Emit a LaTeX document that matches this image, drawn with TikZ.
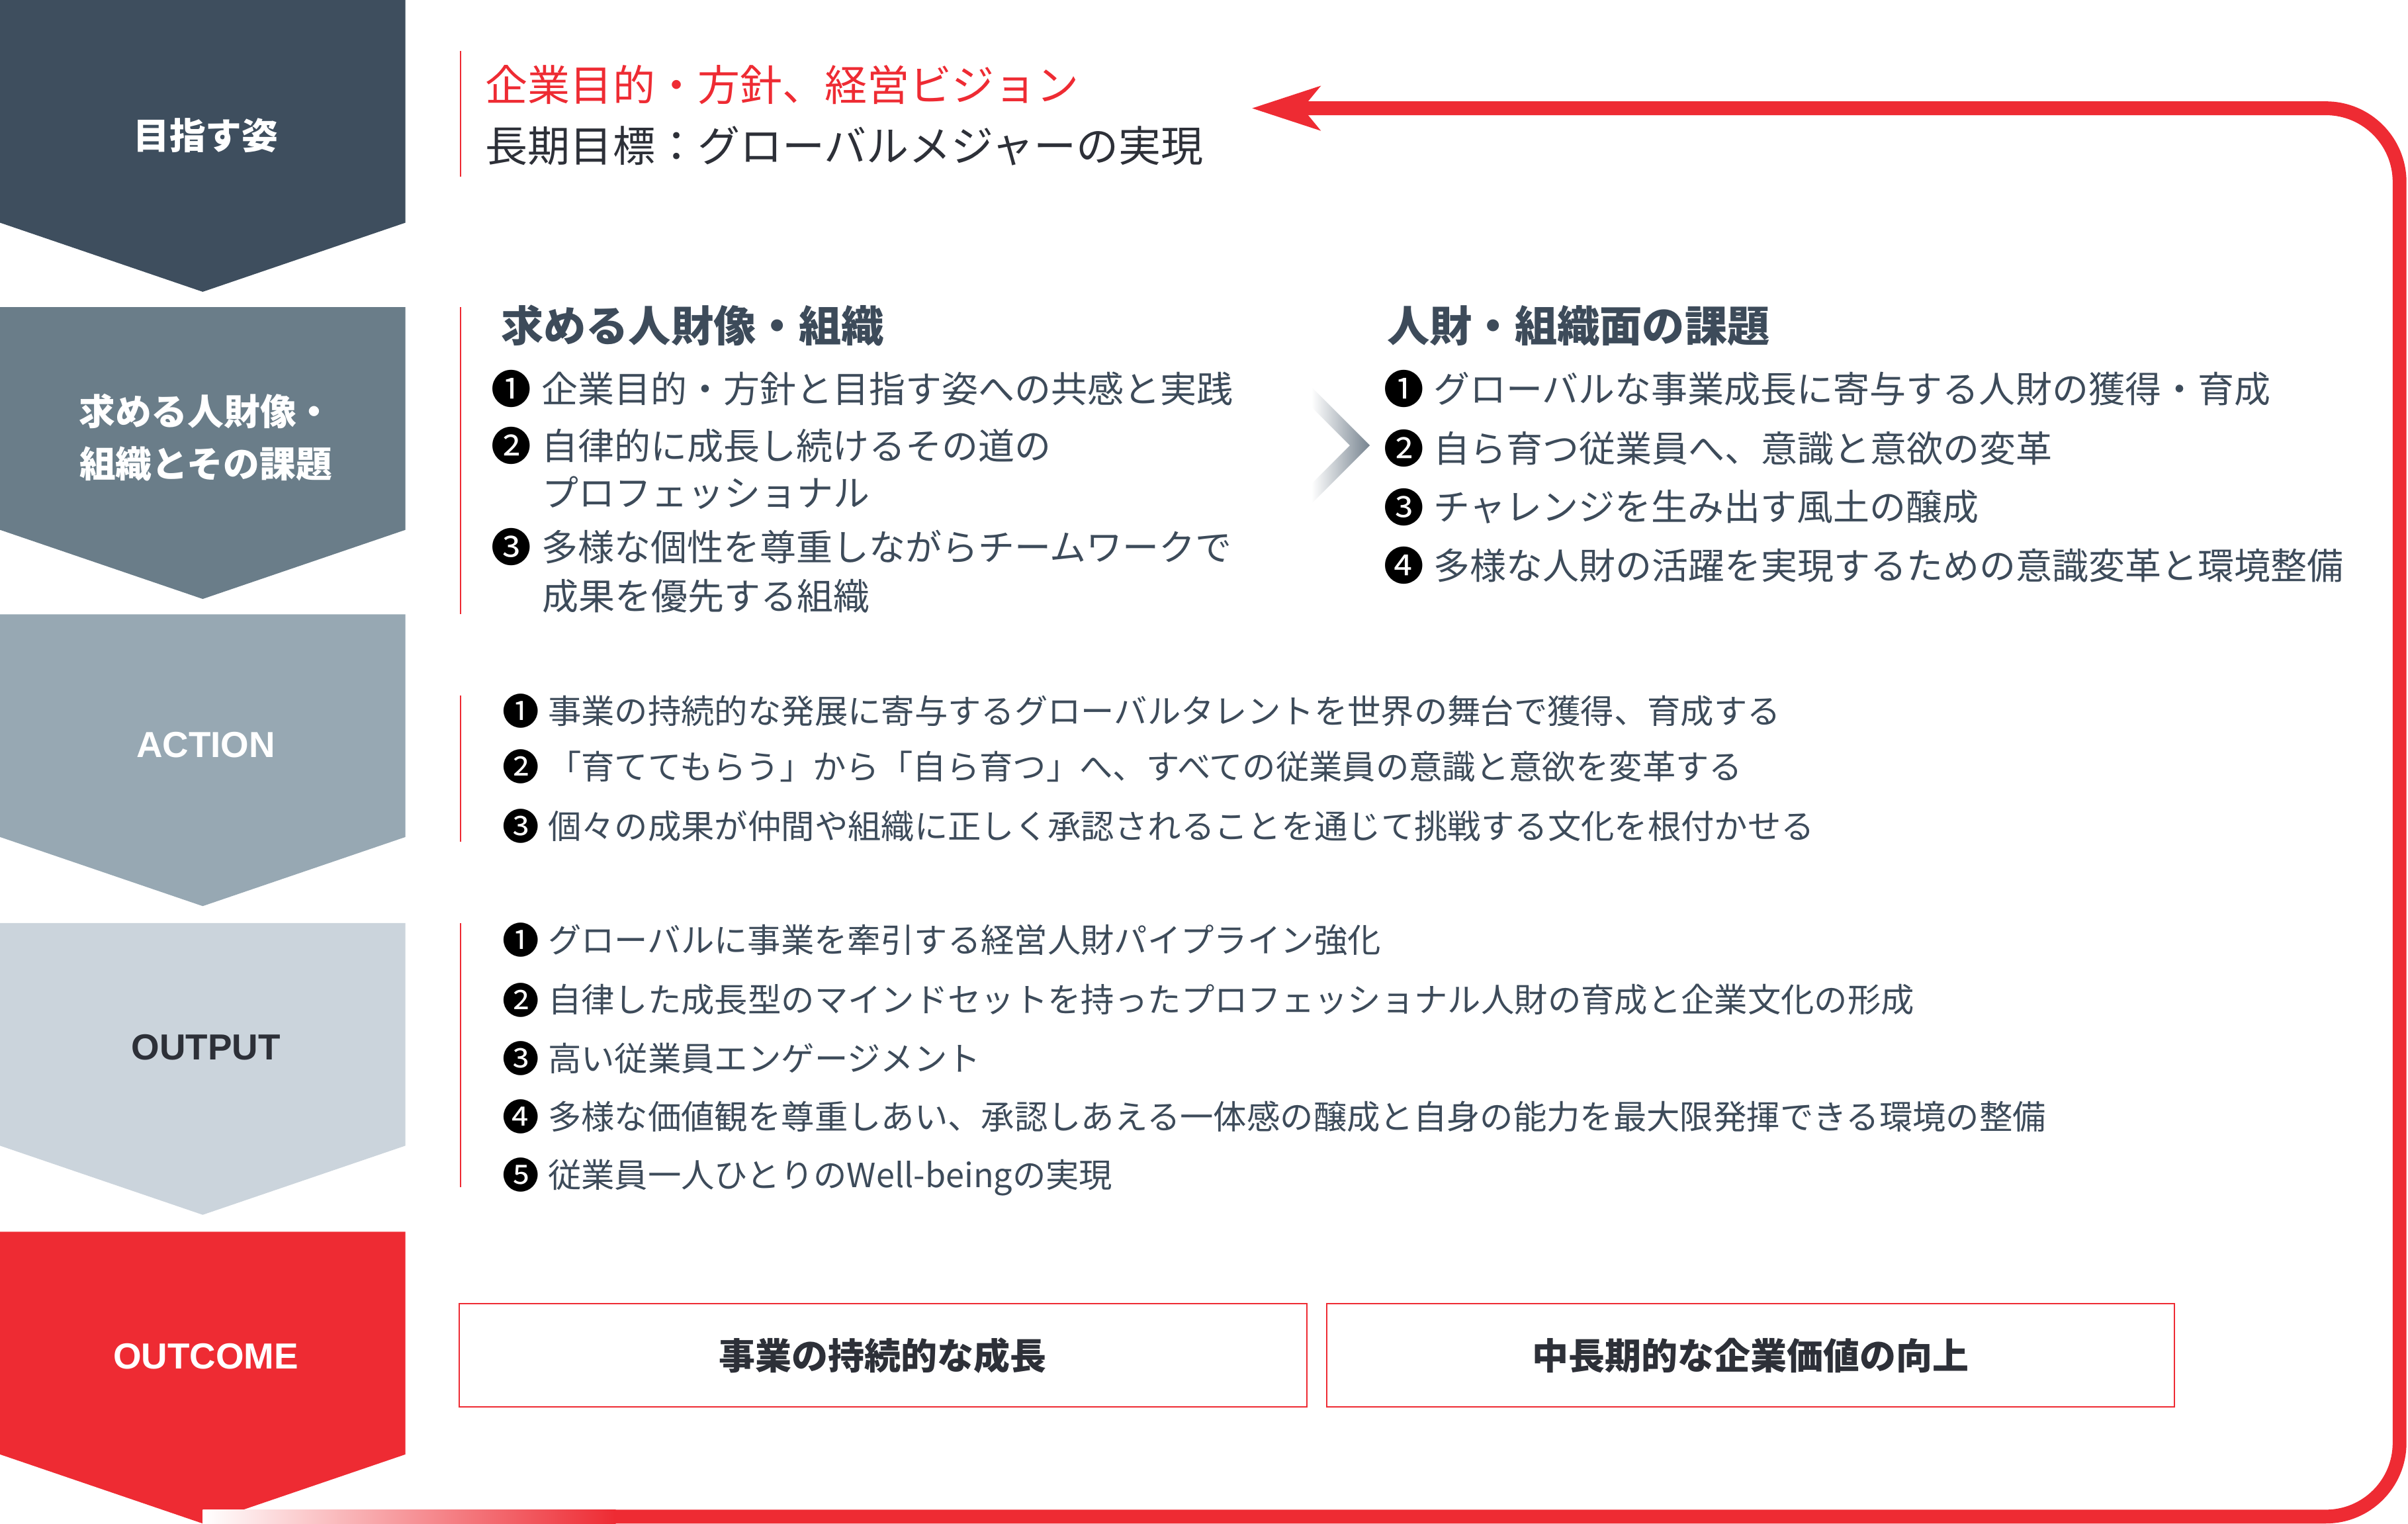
\documentclass[tikz,border=0pt]{standalone}
\usepackage{fontspec}
\setmainfont{Noto Sans CJK JP}
\newfontfamily\latinfont{Liberation Sans}
\usetikzlibrary{arrows.meta}

\definecolor{brandred}{HTML}{EE2B33}
\definecolor{stageA}{HTML}{3E4E5E}
\definecolor{stageB}{HTML}{6A7D89}
\definecolor{stageC}{HTML}{97A8B3}
\definecolor{stageD}{HTML}{CBD4DC}
\definecolor{inkdark}{HTML}{2D3038}
\definecolor{inkslate}{HTML}{3D4B5A}
\definecolor{chevgray}{HTML}{76838F}

\newcommand{\fsz}[2]{\fontsize{#1}{#2}\selectfont}
\newcommand{\cnum}[1]{\makebox[1.32em][l]{\hspace{-0.05em}\raisebox{-0.04em}{\scalebox{1.1}{\textcolor{black}{#1}}}}}

\tikzset{
    stagelabel/.style={text=white, align=center, inner sep=0pt, font=\fsz{23.6}{34}\bfseries},
    stageword/.style={text=white, inner sep=0pt, font=\latinfont\fsz{23.6}{28}\bfseries},
    visiontext/.style={anchor=west, inner sep=0pt, font=\fsz{27.6}{33}, text height=24.3pt, text depth=3.3pt},
    headtext/.style={anchor=west, inner sep=0pt, text=inkslate, font=\fsz{27.7}{33}\bfseries, text height=24.4pt, text depth=3.3pt},
    itemtext/.style={anchor=west, inner sep=0pt, text=inkslate, font=\fsz{23.7}{28}, text height=20.9pt, text depth=2.8pt},
    smalltext/.style={anchor=west, inner sep=0pt, text=inkslate, font=\fsz{21.7}{26}, text height=19.1pt, text depth=2.6pt},
    resultbox/.style={draw=brandred, line width=0.9pt, minimum width=552pt, minimum height=67pt, inner sep=0pt, text=inkdark, font=\fsz{23.7}{28}\bfseries},
    sepline/.style={brandred, line width=0.9pt},
    loopline/.style={brandred, line width=9pt, rounded corners=48pt, -{Stealth[length=44pt, width=28pt, inset=11pt]}}
}

\begin{document}
\begin{tikzpicture}[x=1pt, y=-1pt]
    \useasboundingbox (0,0) rectangle (1568,992.3);

    % Draw stage arrows
    \foreach \ytop/\col in {0/stageA, 200/stageB, 400/stageC, 601/stageD, 802/brandred}
       {
            \fill[\col] (0,\ytop) -- (264,\ytop) -- (264,\ytop+145) -- (132,\ytop+190) -- (0,\ytop+145) -- cycle;
       }

    \node[stagelabel] (goal) at (134,88) {目指す姿};
    \node[stagelabel] (profile) at (134,285) {求める人財像・\\組織とその課題};
    \node[stageword] (action) at (134,485) {ACTION};
    \node[stageword, text=inkdark] (output) at (134,682) {OUTPUT};
    \node[stageword] (outcome) at (134,883) {OUTCOME};

    % Red separators
    \draw[sepline] (300,33) -- (300,115);
    \draw[sepline] (300,200) -- (300,400);
    \draw[sepline] (300,453) -- (300,548);
    \draw[sepline] (300,601) -- (300,773);

    % Vision
    \node[visiontext, text=brandred] (purpose) at (316,55) {企業目的・方針、経営ビジョン};
    \node[visiontext, text=inkdark] (longterm) at (316,95) {長期目標：グローバルメジャーの実現};

    % Profile and issues
    \node[headtext] (needhead) at (326,212) {求める人財像・組織};
    \node[itemtext] (need1) at (321,253) {\cnum{❶}企業目的・方針と目指す姿への共感と実践};
    \node[itemtext] (need2) at (321,290) {\cnum{❷}自律的に成長し続けるその道の};
    \node[itemtext] (need2b) at (353,321) {プロフェッショナル};
    \node[itemtext] (need3) at (321,356) {\cnum{❸}多様な個性を尊重しながらチームワークで};
    \node[itemtext] (need3b) at (353,388) {成果を優先する組織};

    \shade[left color=white, right color=chevgray] (854,252) -- (892,290) -- (854,328) -- (854,315) -- (879,290) -- (854,265) -- cycle;

    \node[headtext] (issuehead) at (903,212) {人財・組織面の課題};
    \node[itemtext] (issue1) at (902,253) {\cnum{❶}グローバルな事業成長に寄与する人財の獲得・育成};
    \node[itemtext] (issue2) at (902,292) {\cnum{❷}自ら育つ従業員へ、意識と意欲の変革};
    \node[itemtext] (issue3) at (902,330) {\cnum{❸}チャレンジを生み出す風土の醸成};
    \node[itemtext] (issue4) at (902,368) {\cnum{❹}多様な人財の活躍を実現するための意識変革と環境整備};

    % Action
    \node[smalltext] (act1) at (328,463) {\cnum{❶}事業の持続的な発展に寄与するグローバルタレントを世界の舞台で獲得、育成する};
    \node[smalltext] (act2) at (328,499) {\cnum{❷}「育ててもらう」から「自ら育つ」へ、すべての従業員の意識と意欲を変革する};
    \node[smalltext] (act3) at (328,538) {\cnum{❸}個々の成果が仲間や組織に正しく承認されることを通じて挑戦する文化を根付かせる};

    % Output
    \node[smalltext] (out1) at (328,612) {\cnum{❶}グローバルに事業を牽引する経営人財パイプライン強化};
    \node[smalltext] (out2) at (328,651) {\cnum{❷}自律した成長型のマインドセットを持ったプロフェッショナル人財の育成と企業文化の形成};
    \node[smalltext] (out3) at (328,689) {\cnum{❸}高い従業員エンゲージメント};
    \node[smalltext] (out4) at (328,727) {\cnum{❹}多様な価値観を尊重しあい、承認しあえる一体感の醸成と自身の能力を最大限発揮できる環境の整備};
    \node[smalltext] (out5) at (328,765) {\cnum{❺}従業員一人ひとりのWell-beingの実現};

    % Outcome
    \node[resultbox] (growth) at (575,882.5) {事業の持続的な成長};
    \node[resultbox] (value) at (1140,882.5) {中長期的な企業価値の向上};

    % Feedback loop
    \coordinate (loopstart) at (400,987.5);
    \coordinate (loopturn) at (1562.5,70.5);
    \coordinate (looptip) at (815,70.5);
    \shade[left color=white, right color=brandred] (132,983) rectangle (401,992.3);
    \draw[loopline] (loopstart) -| (loopturn) -- (looptip);
\end{tikzpicture}
\end{document}
